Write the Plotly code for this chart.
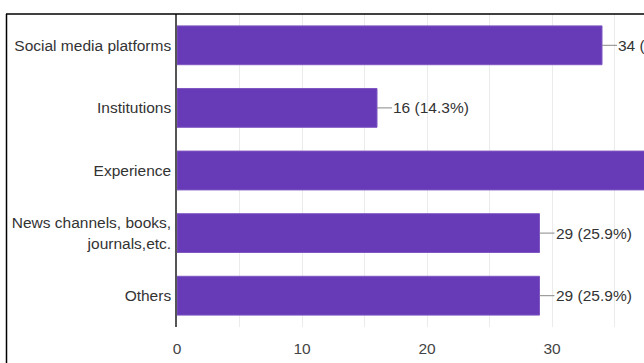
import plotly.graph_objects as go

categories = ["Social media platforms", "Institutions", "Experience",
              "News channels, books,<br>journals,etc.", "Others"]
counts = [34, 16, 45, 29, 29]
total_respondents = 112
x_ticks = [0, 10, 20, 30]

labels = [f"{c} ({c / total_respondents * 100:.1f}%)" for c in counts]

BAR = "#673ab7"
TXT = "#333333"
FONT = "Liberation Sans, Arial"

fig = go.Figure(go.Bar(
    x=counts, y=categories, orientation="h",
    marker=dict(color=BAR, line=dict(color="#7e57c2", width=1)),
    width=0.62, hoverinfo="skip",
))

for c, cat, lab in zip(counts, categories, labels):
    fig.add_annotation(
        x=c, y=cat, xref="x", yref="y", text=lab,
        showarrow=True, arrowhead=0, arrowwidth=1, arrowcolor="#888888",
        ax=15, ay=0, xanchor="left", yanchor="middle", standoff=0,
        borderpad=0,
        font=dict(family=FONT, size=15.5, color=TXT),
    )

# screenshot frame (top and left border)
fig.add_shape(type="line", xref="paper", yref="paper",
              x0=(6 - 177) / 467, x1=1.0, y0=1.0, y1=1.0,
              line=dict(color="#000000", width=1.5))
fig.add_shape(type="line", xref="paper", yref="paper",
              x0=(6.5 - 177) / 467, x1=(6.5 - 177) / 467, y0=1.0, y1=-0.2,
              line=dict(color="#000000", width=1.5))

fig.update_layout(
    width=644, height=363,
    margin=dict(l=177, r=0, t=14, b=36),
    paper_bgcolor="white", plot_bgcolor="white",
    showlegend=False,
    font=dict(family=FONT, size=15.5, color=TXT),
    xaxis=dict(
        range=[0, 37.36], tickvals=x_ticks, showgrid=True,
        gridcolor="#ebebeb", gridwidth=1, zeroline=False,
        minor=dict(dtick=5, showgrid=True, gridcolor="#ebebeb"),
        ticks="outside", ticklen=7, tickcolor="rgba(0,0,0,0)",
        tickfont=dict(size=15.5, color="#444444"),
        fixedrange=True,
    ),
    yaxis=dict(
        categoryorder="array", categoryarray=categories,
        autorange="reversed",
        showline=True, linecolor="#555555", linewidth=1.5,
        showgrid=False, ticks="", ticklabelstandoff=1,
        tickfont=dict(size=15.5, color=TXT),
        fixedrange=True,
    ),
    bargap=0.38,
)

fig.write_html("out.html")
